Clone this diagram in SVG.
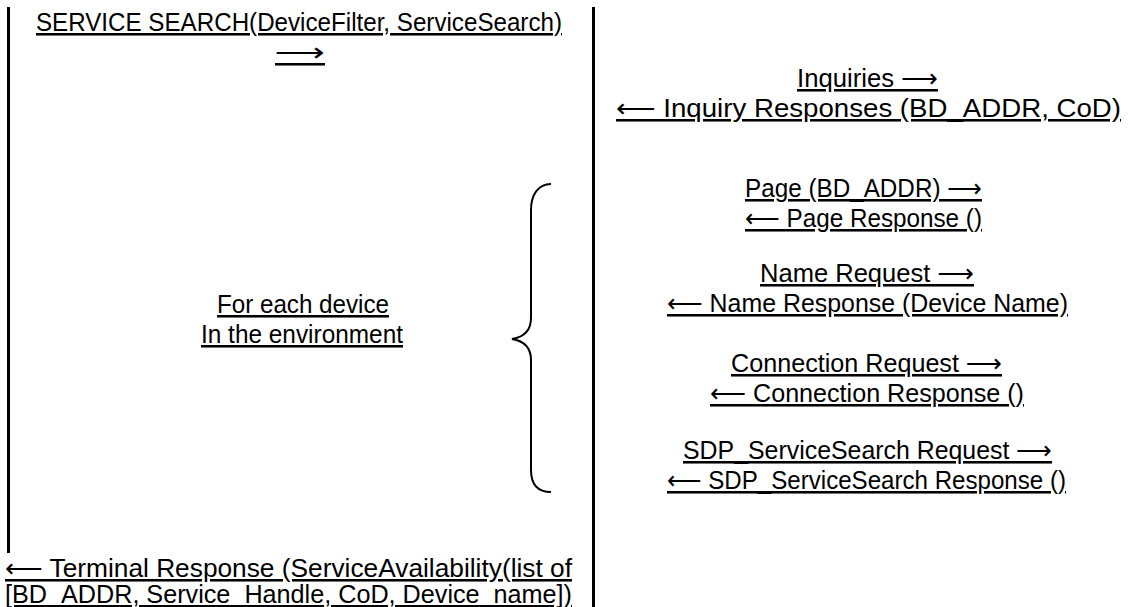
<svg xmlns="http://www.w3.org/2000/svg" width="1134" height="607" viewBox="0 0 1134 607">
  <style>
    .t { font-family: "Liberation Sans", Arial, "DejaVu Sans", sans-serif; font-size: 25.5px; fill: #000; text-anchor: middle; text-decoration: underline; }
    .bar { fill: #000; }
    .brace { fill: none; stroke: #000; stroke-width: 2; }
  </style>
  <rect width="1134" height="607" fill="#fff"/>

  <!-- lifelines -->
  <g id="lifelines">
    <rect class="bar" x="7" y="7" width="3" height="546"/>
    <rect class="bar" x="592" y="7" width="3" height="600"/>
  </g>

  <g id="service-search">
    <text class="t" x="299" y="31" textLength="526" lengthAdjust="spacingAndGlyphs">SERVICE SEARCH(DeviceFilter, ServiceSearch)</text>
    <text class="t" x="300" y="61" textLength="50" lengthAdjust="spacingAndGlyphs">⟶</text>
  </g>

  <g id="inquiry">
    <text class="t" x="867.5" y="87" textLength="141" lengthAdjust="spacingAndGlyphs">Inquiries ⟶</text>
    <text class="t" x="868.5" y="117" textLength="505" lengthAdjust="spacingAndGlyphs">⟵ Inquiry Responses (BD_ADDR, CoD)</text>
  </g>

  <g id="loop">
    <text class="t" x="303" y="313" textLength="172" lengthAdjust="spacingAndGlyphs">For each device</text>
    <text class="t" x="302" y="343" textLength="202" lengthAdjust="spacingAndGlyphs">In the environment</text>
  </g>

  <g id="connectors">
    <path class="brace" d="M551,184 C538,184 531,195 531,210 L531,318 C531,330 524,337 512,339 C524,341 531,348 531,360 L531,470 C531,485 538,492 551,492"/>
  </g>

  <g id="page">
    <text class="t" x="863.5" y="197" textLength="237" lengthAdjust="spacingAndGlyphs">Page (BD_ADDR) ⟶</text>
    <text class="t" x="863.5" y="227" textLength="237" lengthAdjust="spacingAndGlyphs">⟵ Page Response ()</text>
  </g>

  <g id="name">
    <text class="t" x="867" y="282" textLength="214" lengthAdjust="spacingAndGlyphs">Name Request ⟶</text>
    <text class="t" x="867.5" y="312" textLength="401" lengthAdjust="spacingAndGlyphs">⟵ Name Response (Device Name)</text>
  </g>

  <g id="connection">
    <text class="t" x="866.5" y="372" textLength="271" lengthAdjust="spacingAndGlyphs">Connection Request ⟶</text>
    <text class="t" x="867" y="402" textLength="314" lengthAdjust="spacingAndGlyphs">⟵ Connection Response ()</text>
  </g>

  <g id="sdp">
    <text class="t" x="867.5" y="459" textLength="369" lengthAdjust="spacingAndGlyphs">SDP_ServiceSearch Request ⟶</text>
    <text class="t" x="866.5" y="489" textLength="399" lengthAdjust="spacingAndGlyphs">⟵ SDP_ServiceSearch Response ()</text>
  </g>

  <g id="terminal-response">
    <text class="t" x="288.5" y="577" textLength="567" lengthAdjust="spacingAndGlyphs">⟵ Terminal Response (ServiceAvailability(list of</text>
    <text class="t" x="288.5" y="603" textLength="567" lengthAdjust="spacingAndGlyphs">[BD_ADDR, Service_Handle, CoD, Device_name])</text>
  </g>
</svg>
